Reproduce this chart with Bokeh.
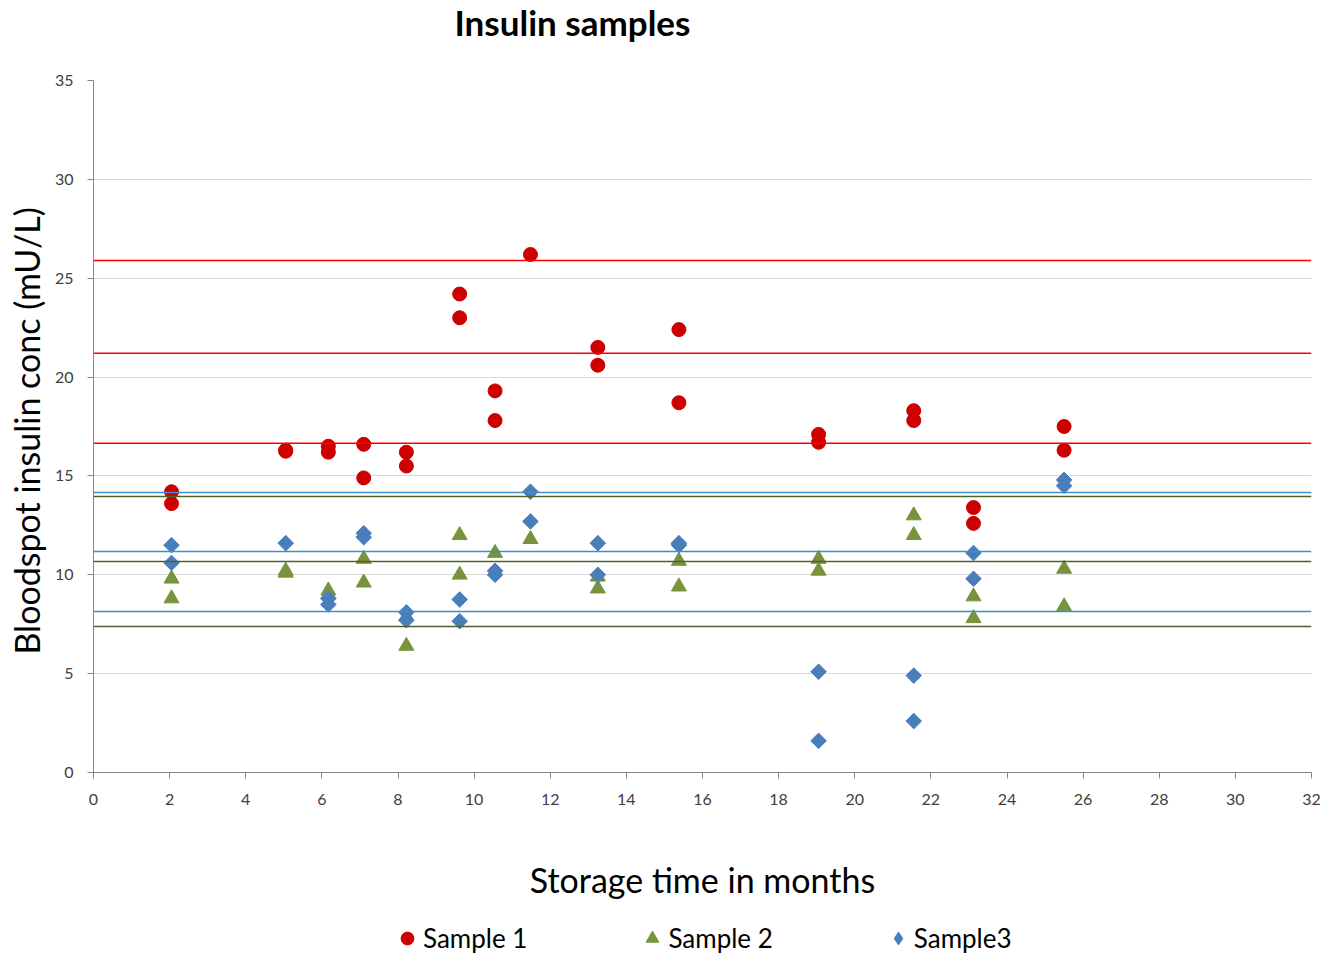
import math
from bokeh.plotting import figure
from bokeh.layouts import column
from bokeh.models import Span, Legend, LegendItem, FixedTicker, Label
from bokeh.embed import file_html
from bokeh.resources import INLINE

FONT = "Lato"

# ---- data ----
title_text = "Insulin samples"
x_ticks = list(range(0, 33, 2))
y_ticks = list(range(0, 36, 5))

s1_x = [2.05, 2.05, 5.05, 5.05, 6.17, 6.17, 7.1, 7.1, 8.22, 8.22, 9.62, 9.62,
        10.55, 10.55, 11.48, 13.25, 13.25, 15.38, 15.38, 19.05, 19.05,
        21.55, 21.55, 23.12, 23.12, 25.5, 25.5]
s1_y = [14.2, 13.6, 16.3, 16.25, 16.5, 16.2, 16.6, 14.9, 16.2, 15.5, 24.2, 23.0,
        19.3, 17.8, 26.2, 21.5, 20.6, 22.4, 18.7, 17.1, 16.7,
        18.3, 17.8, 13.4, 12.6, 17.5, 16.3]

s2_x = [2.05, 2.05, 5.05, 5.05, 6.17, 6.17, 7.1, 7.1, 8.22, 8.22, 9.62, 9.62,
        10.55, 11.48, 13.25, 13.25, 15.38, 15.38, 19.05, 19.05,
        21.55, 21.55, 23.12, 23.12, 25.5, 25.5]
s2_y = [9.8, 8.8, 10.2, 10.1, 9.2, 9.0, 10.8, 9.6, 6.4, 7.9, 12.0, 10.0,
        11.1, 11.8, 9.9, 9.3, 10.7, 9.4, 10.8, 10.2,
        13.0, 12.0, 8.9, 7.8, 10.3, 8.4]

s3_x = [2.05, 2.05, 5.05, 6.17, 6.17, 7.1, 7.1, 8.22, 8.22, 9.62, 9.62,
        10.55, 10.55, 11.48, 11.48, 13.25, 13.25, 15.38, 15.38, 19.05, 19.05,
        21.55, 21.55, 23.12, 23.12, 25.5, 25.5]
s3_y = [11.5, 10.6, 11.6, 8.8, 8.5, 12.1, 11.9, 8.1, 7.7, 8.75, 7.65,
        10.2, 10.0, 14.2, 12.7, 11.6, 10.0, 11.6, 11.5, 5.1, 1.6,
        4.9, 2.6, 11.1, 9.8, 14.8, 14.5]

s1_lines = [25.9, 21.2, 16.65]
s2_lines = [13.96, 10.67, 7.38]
s3_lines = [14.16, 11.18, 8.14]

labels = ["Sample 1", "Sample 2", "Sample3"]

# ---- styles ----
RED = "#CC0000"
GREEN = "#77933C"
BLUE = "#4A7EBB"
W = 1324

# ---- title strip ----
tf = figure(width=W, height=46, x_range=(0, 1), y_range=(0, 1),
            output_backend="svg", toolbar_location=None, title=None,
            x_axis_type=None, y_axis_type=None, min_border=0)
tf.outline_line_color = None
tf.grid.visible = False
tf.add_layout(Label(x=361, y=25, x_units="screen", y_units="screen",
                    text=title_text, text_font=FONT, text_font_size="35px",
                    text_font_style="bold", text_color="#000000",
                    text_baseline="middle", text_align="left"))

# ---- main plot ----
p = figure(width=W, height=860, x_range=(0, 32), y_range=(0, 35),
           output_backend="svg", toolbar_location=None, title=None,
           min_border_left=93, min_border_right=13, min_border_top=34,
           min_border_bottom=134)
p.outline_line_color = None
p.background_fill_color = "white"
p.border_fill_color = "white"

p.xgrid.visible = False
p.ygrid.grid_line_color = "#D9D9D9"
p.ygrid.grid_line_width = 1

for ax in (p.xaxis[0], p.yaxis[0]):
    ax.axis_line_color = "#868686"
    ax.major_tick_line_color = "#868686"
    ax.major_tick_out = 6
    ax.major_tick_in = 0
    ax.minor_tick_line_color = None
    ax.major_label_text_font = FONT
    ax.major_label_text_font_size = "16px"
    ax.major_label_text_color = "#404040"
    ax.axis_label_text_font = FONT
    ax.axis_label_text_font_style = "normal"
    ax.axis_label_text_color = "#000000"

p.xaxis.ticker = FixedTicker(ticks=x_ticks)
p.yaxis.ticker = FixedTicker(ticks=y_ticks)
p.xaxis.major_label_standoff = 15
p.yaxis.major_label_standoff = 14
p.xaxis.axis_label = "Storage time in months"
p.xaxis.axis_label_text_font_size = "34px"
p.xaxis.axis_label_standoff = 51
p.yaxis.axis_label = "Bloodspot insulin conc  (mU/L)"
p.yaxis.axis_label_text_font_size = "34px"
p.yaxis.axis_label_standoff = 5

for loc in s1_lines:
    p.add_layout(Span(location=loc, dimension="width", line_color="#FF0000", line_width=1.5))
for loc in s2_lines:
    p.add_layout(Span(location=loc, dimension="width", line_color="#4F6228", line_width=1.5))
for loc in s3_lines:
    p.add_layout(Span(location=loc, dimension="width", line_color="#3C8DD8", line_width=1.5))

p.scatter(s1_x, s1_y, marker="circle", size=14, fill_color=RED, line_color=RED)
p.scatter(s2_x, s2_y, marker="triangle", size=15, fill_color=GREEN, line_color=GREEN)
p.scatter(s3_x, s3_y, marker="square", angle=math.pi / 4, size=11,
          fill_color=BLUE, line_color=BLUE)

# ---- legend strip (glyph renderers fall outside this strip's ranges) ----
lg = figure(width=W, height=48, x_range=(0, 32), y_range=(100, 101),
            output_backend="svg", toolbar_location=None, title=None,
            x_axis_type=None, y_axis_type=None, min_border=0)
lg.outline_line_color = None
lg.grid.visible = False
l1 = lg.scatter(s1_x, s1_y, marker="circle", fill_color=RED, line_color=RED)
l2 = lg.scatter(s2_x, s2_y, marker="triangle", fill_color=GREEN, line_color=GREEN)
l3 = lg.scatter(s3_x, s3_y, marker="diamond", fill_color=BLUE, line_color=BLUE)

legend = Legend(items=[LegendItem(label=labels[0], renderers=[l1]),
                       LegendItem(label=labels[1], renderers=[l2]),
                       LegendItem(label=labels[2], renderers=[l3])],
                orientation="horizontal", location=(298, 0),
                label_text_font=FONT, label_text_font_size="26px",
                label_text_color="#000000",
                border_line_color=None, background_fill_alpha=0,
                glyph_width=32, glyph_height=32, label_standoff=0, spacing=109,
                margin=0, padding=0)
lg.add_layout(legend, "center")

open("out.html", "w").write(file_html(column(tf, p, lg, spacing=0), INLINE))
